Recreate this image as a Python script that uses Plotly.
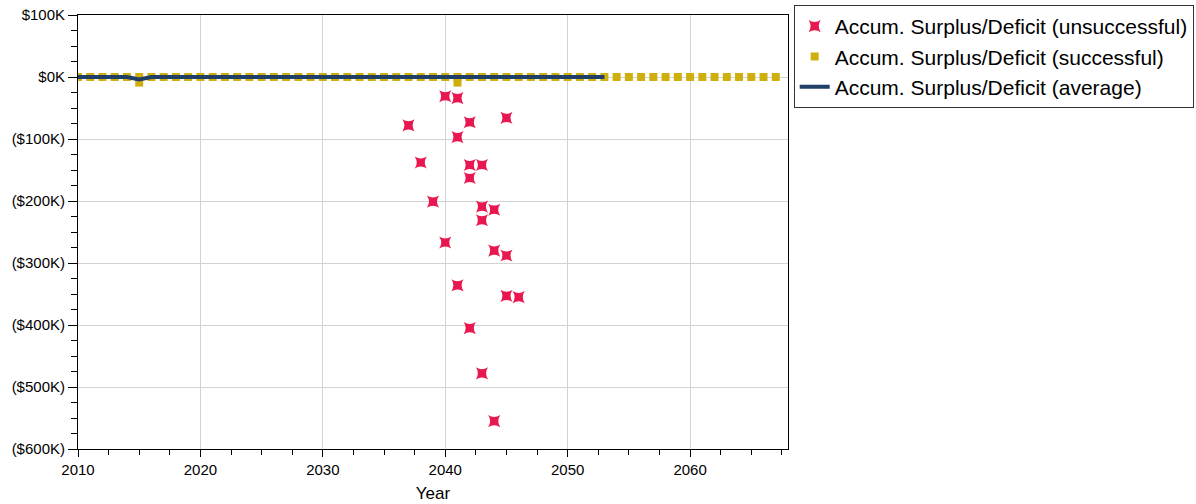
import plotly.graph_objects as go

# Data
unsucc_years = [2037, 2040, 2041, 2042, 2045, 2041, 2038, 2042, 2043, 2042, 2039,
                2043, 2044, 2043, 2040, 2044, 2045, 2041, 2045, 2046, 2042, 2043, 2044]
unsucc_vals = [-78000, -31000, -34000, -73000, -66000, -97000, -138000, -142000, -142000,
               -163000, -201000, -209000, -214000, -231000, -267000, -280000, -288000,
               -336000, -353000, -355000, -405000, -478000, -555000]

succ_years = list(range(2010, 2068)) + [2015, 2041]
succ_vals = [0] * len(range(2010, 2068)) + [-9000, -9000]

avg_years = list(range(2010, 2054))
avg_vals = [0, 0, 0, 0, 0, -4000] + [0] * (len(avg_years) - 6)

ytick_vals = [100000, 0, -100000, -200000, -300000, -400000, -500000, -600000]
ytick_text = ["$100K", "$0K", "($100K)", "($200K)", "($300K)", "($400K)", "($500K)", "($600K)"]
xtick_vals = [2010, 2020, 2030, 2040, 2050, 2060]

FONT = "Arial, Liberation Sans, sans-serif"

fig = go.Figure()
fig.add_trace(go.Scatter(
    x=unsucc_years, y=unsucc_vals, mode="markers",
    name="Accum. Surplus/Deficit (unsuccessful)",
    marker=dict(symbol="star-square", size=11, color="#E8174F",
                line=dict(width=0)),
))
fig.add_trace(go.Scatter(
    x=succ_years, y=succ_vals, mode="markers",
    name="Accum. Surplus/Deficit (successful)",
    marker=dict(symbol="square", size=8, color="#CFAF0E", line=dict(width=0)),
))
fig.add_trace(go.Scatter(
    x=avg_years, y=avg_vals, mode="lines",
    name="Accum. Surplus/Deficit (average)",
    line=dict(color="#1F3F68", width=4),
))

fig.update_layout(
    width=1196, height=504,
    margin=dict(l=78, r=408, t=15, b=55, autoexpand=False),
    paper_bgcolor="white", plot_bgcolor="white",
    font=dict(family=FONT, color="black", size=14),
    showlegend=True,
    legend=dict(x=1.008, y=1.023, xanchor="left", yanchor="top",
                bordercolor="#333333", borderwidth=1, bgcolor="white",
                font=dict(size=21, family=FONT), tracegroupgap=0,
                itemwidth=30),
    xaxis=dict(
        range=[2010, 2068], tickvals=xtick_vals, ticktext=[str(v) for v in xtick_vals],
        showgrid=True, gridcolor="#D3D3D3", gridwidth=1,
        showline=True, linecolor="black", linewidth=1, mirror=True,
        ticks="outside", ticklen=7, tickcolor="black",
        minor=dict(dtick=2.5, tick0=2010, ticks="outside", ticklen=5, tickcolor="black", showgrid=False),
        title=dict(text="Year", font=dict(size=17), standoff=10),
        zeroline=False, tickfont=dict(size=15),
    ),
    yaxis=dict(
        range=[-600000, 100000], tickvals=ytick_vals, ticktext=ytick_text,
        showgrid=True, gridcolor="#D3D3D3", gridwidth=1,
        showline=True, linecolor="black", linewidth=1, mirror=True,
        ticks="outside", ticklen=9, tickcolor="black",
        minor=dict(dtick=25000, tick0=0, ticks="outside", ticklen=6, tickcolor="black", showgrid=False),
        zeroline=False, tickfont=dict(size=15),
    ),
)

fig.write_html("out.html")
